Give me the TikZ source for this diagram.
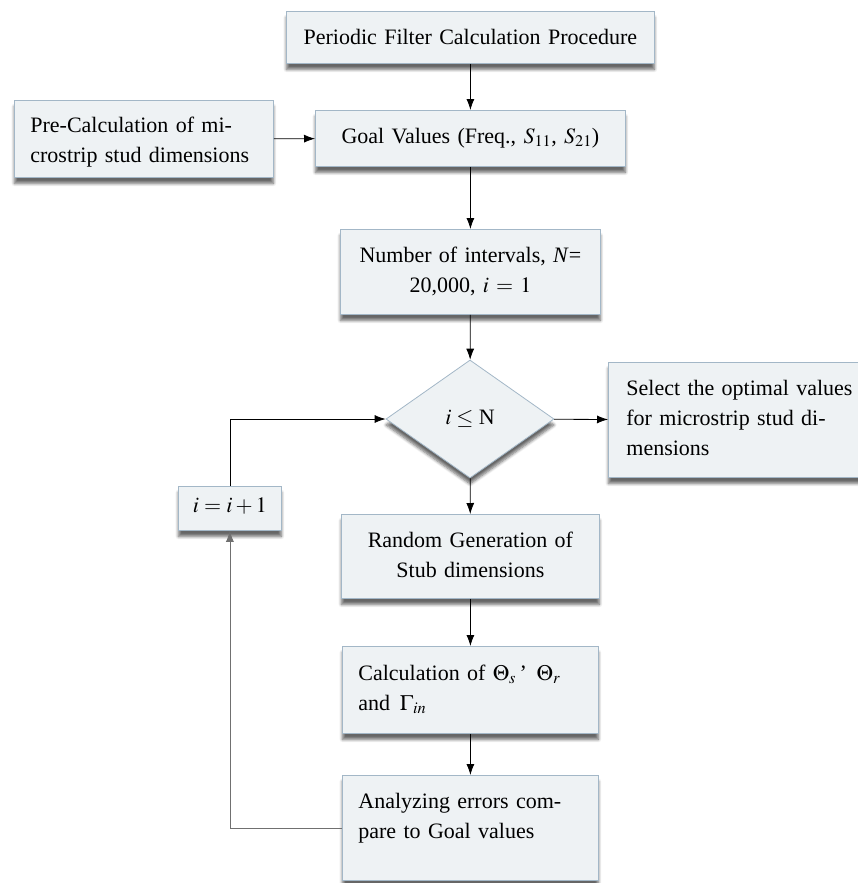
\documentclass[tikz,border=0pt]{standalone}
\usepackage{mathptmx}
\usepackage{fontspec}
\setmainfont{Liberation Serif}
\usetikzlibrary{shapes.geometric,arrows.meta,shadows.blur}
\definecolor{boxfill}{HTML}{EEF2F4}
\definecolor{boxline}{HTML}{A3B7C7}
\definecolor{loopline}{HTML}{707070}
\tikzset{
  box/.style={draw=boxline, fill=boxfill, line width=0.8pt, anchor=north west,
    inner xsep=16pt, inner ysep=0pt, text height=33pt,
    font=\fontsize{22}{30}\selectfont,
    blur shadow={shadow xshift=0pt, shadow yshift=-6pt, shadow blur steps=6,
      shadow blur radius=3pt, shadow opacity=60}},
  test/.style={diamond, draw=boxline, fill=boxfill, line width=0.8pt,
    minimum width=168pt, minimum height=118pt, inner sep=0pt,
    font=\fontsize{22}{30}\selectfont,
    blur shadow={shadow xshift=0pt, shadow yshift=-6pt, shadow blur steps=6,
      shadow blur radius=3pt, shadow opacity=60}},
  flow/.style={-{Latex[length=11pt,width=8pt]}, line width=0.8pt},
  back/.style={flow, draw=loopline}
}
\begin{document}
\begin{tikzpicture}[x=1pt,y=-1pt]
    \useasboundingbox (0,0) rectangle (857,883);
    % top row
    \node[box, text width=336pt, align=center, text depth=19pt] (proc) at (286,11)
        {Periodic Filter Calculation Procedure};
    \node[box, text width=227pt, align=left, text height=32pt, text depth=45pt] (precalc) at (14,100)
        {Pre-Calculation of mi-\\crostrip stud dimensions};
    \node[box, text width=278pt, align=center, text depth=23pt] (goal) at (315,110)
        {Goal Values (Freq., $S_{11}$, $S_{21}$)};
    \node[box, text width=228pt, align=center, text depth=52pt] (number) at (340,229)
        {Number of intervals, \textit{N}=\\20,000, $i=1$};
    % decision and its exits
    \node[test] (check) at (470,419) {$i \leq$ N};
    \node[box, inner xsep=18pt, text width=230pt, align=left, text depth=82pt] (select) at (608,362)
        {Select the optimal values\\for microstrip stud di-\\mensions};
    \node[box, inner xsep=10pt, text width=83pt, align=center, text height=26pt, text depth=18pt] (incr) at (178,486)
        {$i=i+1$};
    % loop body
    \node[box, text width=226pt, align=center, text depth=51pt] (random) at (341,514)
        {Random Generation of\\Stub dimensions};
    \node[box, text width=224pt, align=left, text height=34pt, text depth=53pt] (calc) at (342,646)
        {Calculation of $\Theta_{s}$\,'\;\,$\Theta_{r}$\\and\;\,$\Gamma_{in}$};
    \node[box, text width=224pt, align=left, text depth=72pt] (analyze) at (342,775)
        {Analyzing errors com-\\pare to Goal values};
    % connectors
    \draw[flow] (proc) -- (goal);
    \draw[flow] (precalc) -- (goal);
    \draw[flow] (goal) -- (number);
    \draw[flow] (number) -- (check);
    \draw[flow] (check) -- (select);
    \draw[flow] (check) -- (random);
    \draw[flow] (random) -- (calc);
    \draw[flow] (calc) -- (analyze);
    \draw[back] (analyze.west) -| (incr.south);
    \draw[flow] (incr.north) |- (check.west);
\end{tikzpicture}
\end{document}
